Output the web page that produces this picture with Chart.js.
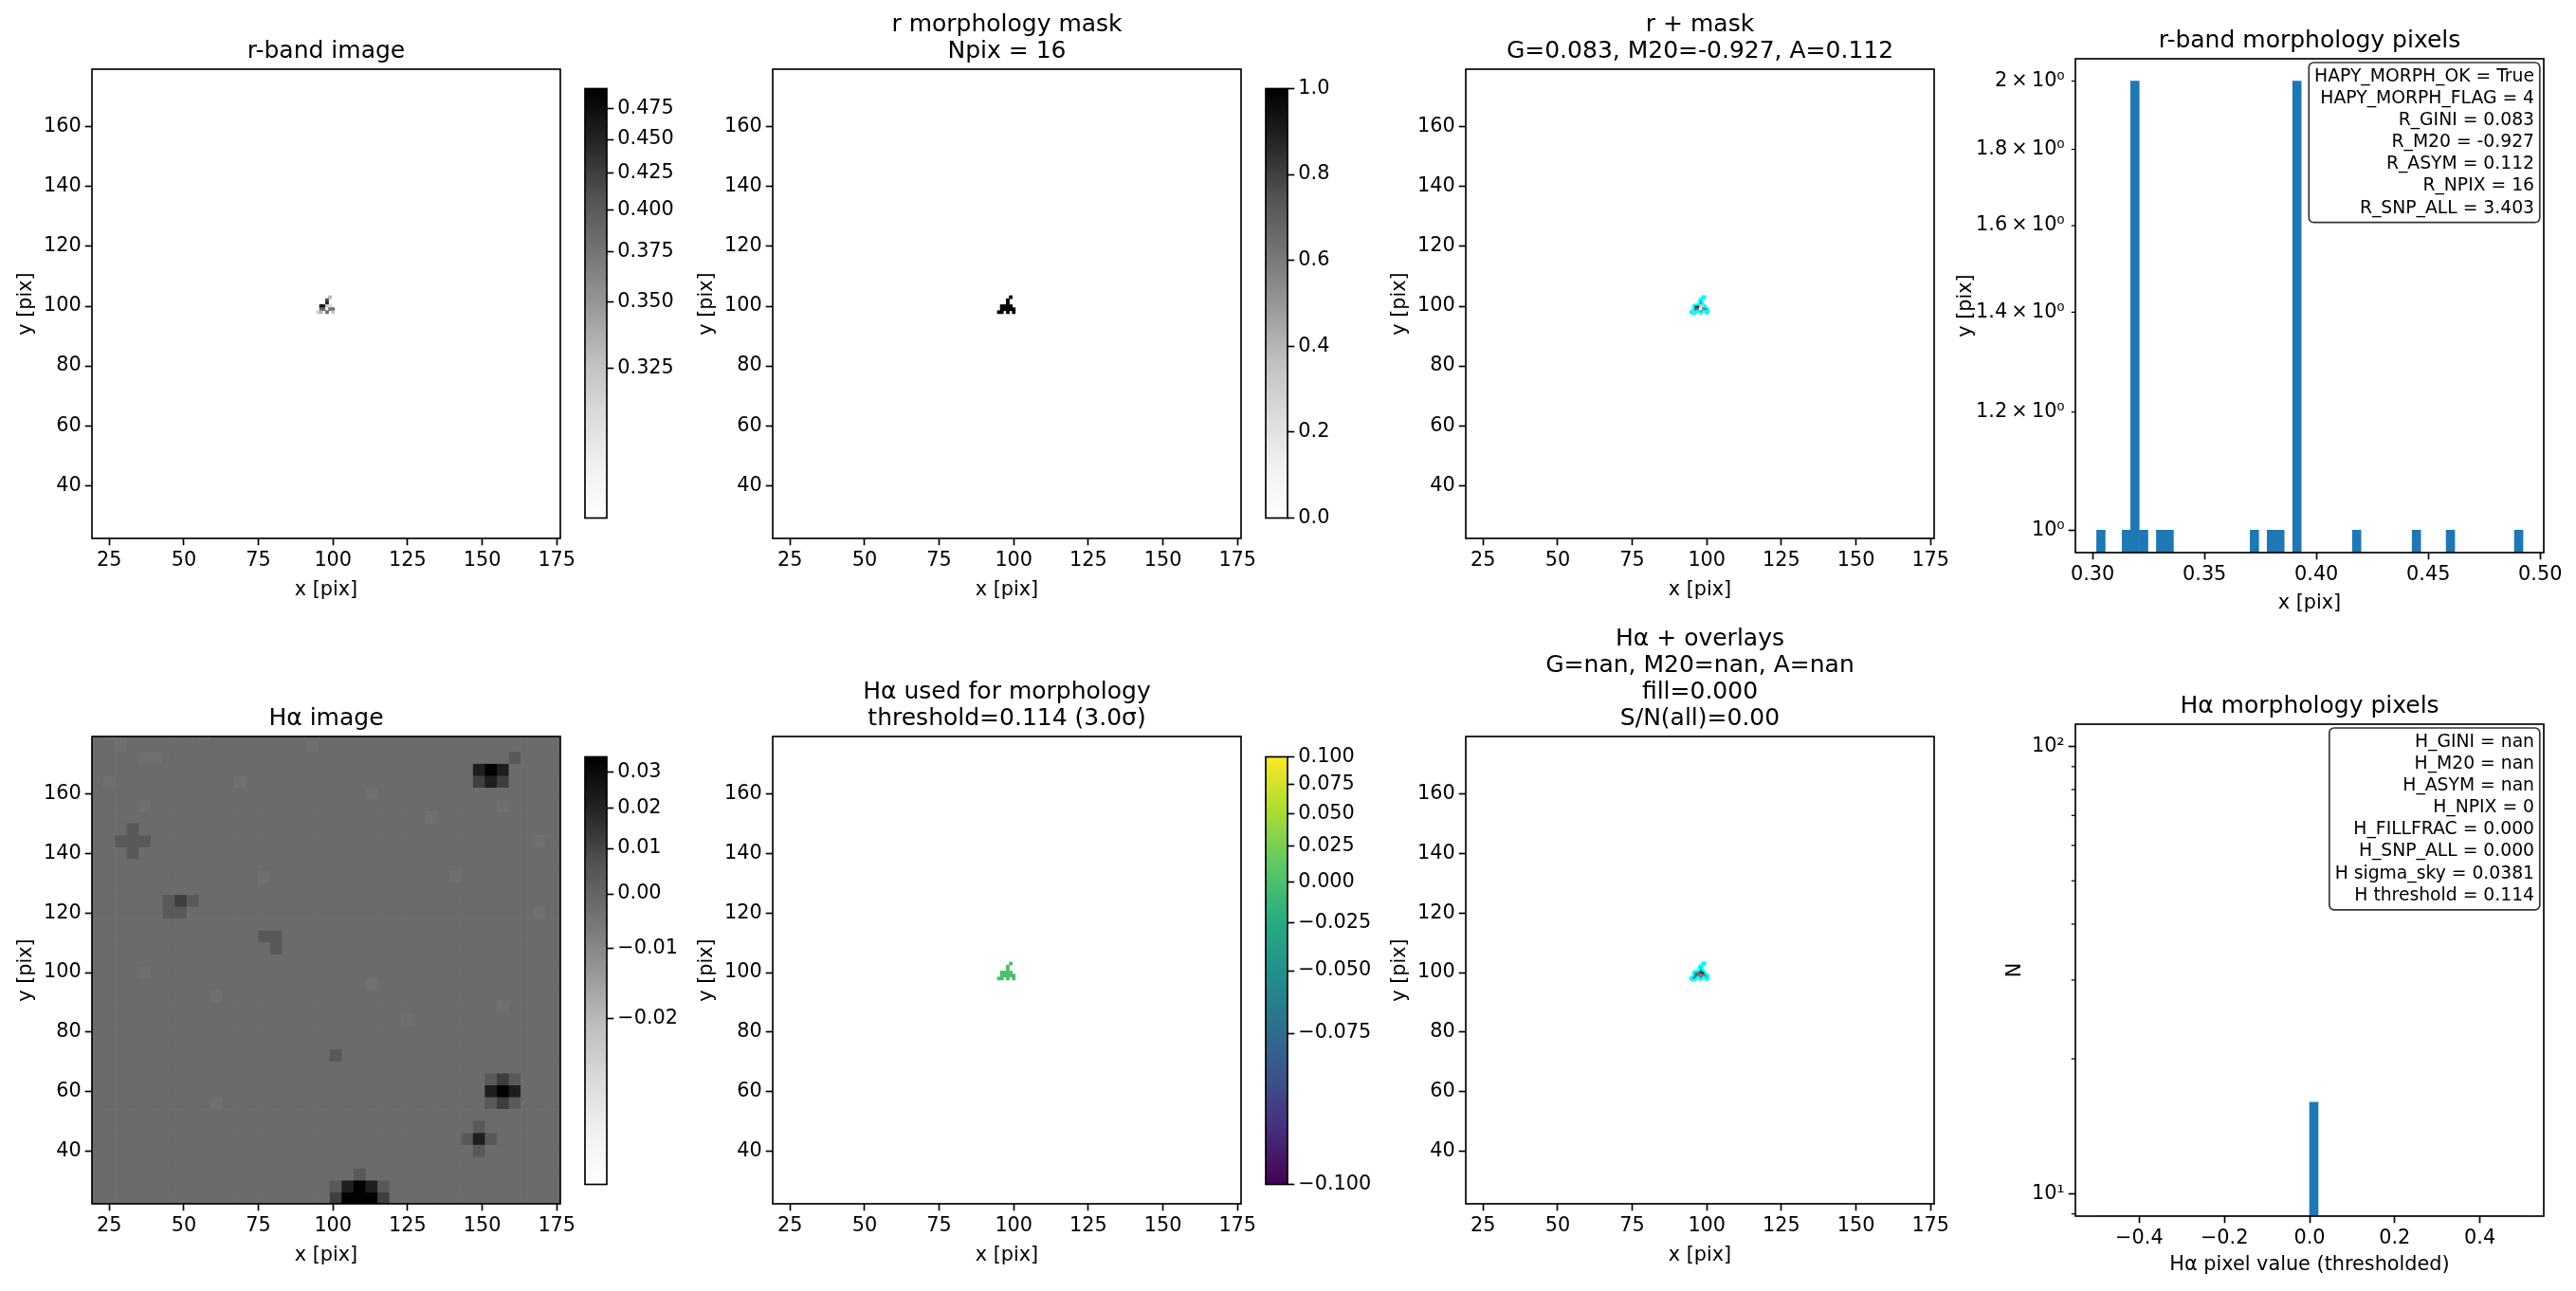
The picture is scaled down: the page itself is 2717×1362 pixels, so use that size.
<!DOCTYPE html>
<html>
<head>
<meta charset="utf-8">
<title>Morphology diagnostics</title>
<script src="https://cdn.jsdelivr.net/npm/chart.js@4"></script>
<style>
    html, body { margin: 0; background: #fff; }
    #fig { position: relative; width: 2717px; height: 1362px; overflow: hidden; }
    canvas { position: absolute; }
</style>
</head>
<body>
<div id="fig"></div>
<script>
// Image axes ticks
const imageXTicks = [25, 50, 75, 100, 125, 150, 175];
const imageYTicks = [40, 60, 80, 100, 120, 140, 160];

// Pixels of the 16 pixel morphology mask (x, y in image pixels)
const maskX = [99, 98, 98, 96, 97, 98, 99, 96, 97, 98, 99, 100, 95, 96, 98, 100];
const maskY = [103, 102, 101, 100, 100, 100, 100, 99, 99, 99, 99, 99, 98, 98, 98, 98];
const maskValues = [1, 1, 1, 1, 1, 1, 1, 1, 1, 1, 1, 1, 1, 1, 1, 1];
const rPixelValues = [0.331, 0.418, 0.445, 0.4904, 0.4599, 0.319, 0.3151, 0.3913, 0.3913, 0.3037, 0.3723, 0.3799, 0.3189, 0.3342, 0.3837, 0.3228];
const haUsedValues = [0, 0, 0, 0, 0, 0, 0, 0, 0, 0, 0, 0, 0, 0, 0, 0];
const haOverlayValues = [0.002, 0.004, 0.006, 0, 0, 0.008, 0.03, 0.003, 0, -0.006, -0.004, -0.01, 0, 0.002, 0, -0.012];

// Outline of the mask, drawn in cyan on the overlay panels
const contourX = [99, 99.5, 99, 98.5, 98.5, 99, 99.5, 100, 100.5, 100.5, 100, 99.5, 99, 98.5, 98, 97.5, 97, 96.5, 96, 95, 94.5, 95, 95.5, 95.5, 96, 97, 97.5, 97.5, 98, 98.5, 99];
const contourY = [103.5, 103, 102.5, 102, 101, 100.5, 100, 99.5, 99, 98, 97.5, 98, 98.5, 98, 97.5, 98, 98.5, 98, 97.5, 97.5, 98, 98.5, 99, 100, 100.5, 100.5, 101, 102, 102.5, 103, 103.5];

// Halpha image: read by eye as 4x4 pixel blocks, top row first. The single
// pixel speckle of the reference cannot be transcribed, only the local level
// and the dark blobs are kept. Digit = index into haBlockLevels.
const haBlockX = [21, 25, 29, 33, 37, 41, 45, 49, 53, 57, 61, 65, 69, 73, 77, 81, 85, 89, 93, 97, 101, 105, 109, 113, 117, 121, 125, 129, 133, 137, 141, 145, 149, 153, 157, 161, 165, 169, 173, 177];
const haBlockY = [180, 176, 172, 168, 164, 160, 156, 152, 148, 144, 140, 136, 132, 128, 124, 120, 116, 112, 108, 104, 100, 96, 92, 88, 84, 80, 76, 72, 68, 64, 60, 56, 52, 48, 44, 40, 36, 32, 28, 24];
const haBlockLevels = [-0.012, -0.009, -0.007, -0.005, -0.0035, -0.002, 0.004, 0.012, 0.022, 0.034];
const haBlockRows = [
    '5445555554555555555555555555555555555555',
    '5545555555555555554555555555555555555555',
    '5555445555555555555555555555555555565555',
    '5555555555555555555555555555555589855555',
    '5455555555554555555555555555555578755555',
    '5555555555555555555555545555555555555555',
    '5555455555555555555555555555555555455555',
    '5555555555555555555555555555455555555555',
    '5556555555555555555555555555555555555555',
    '5566655555555555555555555555555555555455',
    '5556555555555555555555555555555555555555',
    '5555555555555555555555555555555555555555',
    '5555555555555545555555555555554555555555',
    '5555555555555555555555555555555555555555',
    '5555556765555555555555555555555555555555',
    '5555556655555555555555555555555555555455',
    '5555555555555555555555555555555555555555',
    '5555555555555566555555555555555555555555',
    '5555555555555556555555555555555555555555',
    '5555555555555555555555555555555555555555',
    '5555455555555555555555555555555555555555',
    '5555555555555555555555545555555555555555',
    '5555555555455555555555555555555555555555',
    '5555555555555555555555555555555555455555',
    '5555555555555555555555555545555555555555',
    '5555555555555555555555555555555555555555',
    '5555555555555555555555555555555555555555',
    '5555555555555555555565555555555555555555',
    '5555555555555555555555555555555555555555',
    '5555555555555555555555555555555556765555',
    '5555555555555555555555555555555558985555',
    '5555555555455555555555555555555556765555',
    '5555555555555555555555555555555555555555',
    '5555555555555555555555555555555565555555',
    '5555555555555555555555555555555686555555',
    '5555555555555555555555555555555565555555',
    '5555555555555555555555555555555555555555',
    '5555555555555555555555655555555555555555',
    '5555555555555555555568986555555555555555',
    '5555555555555555555579997555555555555555'
];

// r-band histogram: non-empty bins only
const rHistBins = [0.3037, 0.3151, 0.3189, 0.3228, 0.3304, 0.3342, 0.3723, 0.3799, 0.3837, 0.3913, 0.418, 0.4447, 0.4599, 0.4904];
const rHistCounts = [1, 1, 2, 1, 1, 1, 1, 1, 1, 2, 1, 1, 1, 1];
const rHistXTicks = [0.30, 0.35, 0.40, 0.45, 0.50];
const rHistYTicks = [1, 1.2, 1.4, 1.6, 1.8, 2];
const rHistYLabels = ['10⁰', '1.2\u2009×\u200910⁰', '1.4\u2009×\u200910⁰', '1.6\u2009×\u200910⁰', '1.8\u2009×\u200910⁰', '2\u2009×\u200910⁰'];

// Halpha histogram
const haHistBins = [-0.49, -0.47, -0.45, -0.43, -0.41, -0.39, -0.37, -0.35, -0.33, -0.31, -0.29, -0.27, -0.25, -0.23, -0.21, -0.19, -0.17, -0.15, -0.13, -0.11, -0.09, -0.07, -0.05, -0.03, -0.01, 0.01, 0.03, 0.05, 0.07, 0.09, 0.11, 0.13, 0.15, 0.17, 0.19, 0.21, 0.23, 0.25, 0.27, 0.29, 0.31, 0.33, 0.35, 0.37, 0.39, 0.41, 0.43, 0.45, 0.47, 0.49];
const haHistCounts = [0, 0, 0, 0, 0, 0, 0, 0, 0, 0, 0, 0, 0, 0, 0, 0, 0, 0, 0, 0, 0, 0, 0, 0, 0, 16, 0, 0, 0, 0, 0, 0, 0, 0, 0, 0, 0, 0, 0, 0, 0, 0, 0, 0, 0, 0, 0, 0, 0, 0];
const haHistXTicks = [-0.4, -0.2, 0, 0.2, 0.4];
const haHistYTicks = [10, 100];
const haHistYLabels = ['10¹', '10²'];
const haHistYMinor = [9, 20, 30, 40, 50, 60, 70, 80, 90];

// Colorbar ticks
const rBarTicks = [0.325, 0.35, 0.375, 0.40, 0.425, 0.45, 0.475];
const maskBarTicks = [0, 0.2, 0.4, 0.6, 0.8, 1];
const haBarTicks = [-0.02, -0.01, 0, 0.01, 0.02, 0.03];
const usedBarTicks = [-0.1, -0.075, -0.05, -0.025, 0, 0.025, 0.05, 0.075, 0.1];

// Annotation boxes
const rBoxLines = ['HAPY_MORPH_OK = True', 'HAPY_MORPH_FLAG = 4', 'R_GINI = 0.083', 'R_M20 = -0.927', 'R_ASYM = 0.112', 'R_NPIX = 16', 'R_SNP_ALL = 3.403'];
const haBoxLines = ['H_GINI = nan', 'H_M20 = nan', 'H_ASYM = nan', 'H_NPIX = 0', 'H_FILLFRAC = 0.000', 'H_SNP_ALL = 0.000', 'H sigma_sky = 0.0381', 'H threshold = 0.114'];

// Colormaps
const GREYS = ['#ffffff', '#f0f0f0', '#d9d9d9', '#bdbdbd', '#969696', '#737373', '#525252', '#252525', '#000000'];
const VIRIDIS = ['#440154', '#472d7b', '#3b528b', '#2c728e', '#21918c', '#28ae80', '#5ec962', '#addc30', '#fde725'];

const FONT = '"DejaVu Sans"';
const TICK_SIZE = 20.8;
const TITLE_SIZE = 25;
const TITLE_LINE = 1.13;

Chart.defaults.font.family = FONT;
Chart.defaults.color = '#000';

// Square root stretch used by the image colorbars
class SqrtScale extends Chart.LinearScale {
    getPixelForValue(value) {
        const t = (value - this.min) / (this.max - this.min);
        return this.getPixelForDecimal(Math.sqrt(Math.max(0, t)));
    }
}
SqrtScale.id = 'sqrtStretch';
SqrtScale.defaults = Chart.LinearScale.defaults;
Chart.register(SqrtScale);

function hexToRgb(hex) {
    return [1, 3, 5].map(i => parseInt(hex.slice(i, i + 2), 16));
}

function mapColor(stops, t) {
    const pos = Math.min(Math.max(t, 0), 1) * (stops.length - 1);
    const i = Math.min(Math.floor(pos), stops.length - 2);
    const a = hexToRgb(stops[i]);
    const b = hexToRgb(stops[i + 1]);
    const c = a.map((v, k) => Math.round(v + (b[k] - v) * (pos - i)));
    return `rgb(${c[0]},${c[1]},${c[2]})`;
}

function sqrtColor(stops, value, vmin, vmax) {
    return mapColor(stops, Math.sqrt(Math.max(0, (value - vmin) / (vmax - vmin))));
}

// Axes frame, short log ticks and the annotation box
const framePlugin = {
    id: 'axesFrame',
    afterDraw(chart, args, opts) {
        const a = chart.chartArea;
        const ctx = chart.ctx;
        ctx.save();
        ctx.strokeStyle = '#000';
        ctx.lineWidth = 1.67;
        ctx.strokeRect(a.left, a.top, a.right - a.left, a.bottom - a.top);
        (opts.minorTicks || []).forEach(v => {
            const y = chart.scales.y.getPixelForValue(v);
            ctx.lineWidth = 1.25;
            ctx.beginPath();
            ctx.moveTo(a.left, y);
            ctx.lineTo(a.left - 4.2, y);
            ctx.stroke();
        });
        if (opts.boxLines) {
            const lineStep = 23.1;
            ctx.font = `18.75px ${FONT}`;
            const textW = Math.max(...opts.boxLines.map(l => ctx.measureText(l).width));
            const right = a.right - 4.2;
            const top = a.top + 4;
            const w = textW + 11.6;
            const h = opts.boxLines.length * lineStep + 7;
            ctx.beginPath();
            ctx.roundRect(right - w, top, w, h, 5);
            ctx.fillStyle = '#fff';
            ctx.fill();
            ctx.strokeStyle = '#333';
            ctx.lineWidth = 1.67;
            ctx.stroke();
            ctx.fillStyle = '#000';
            ctx.textAlign = 'right';
            ctx.textBaseline = 'middle';
            opts.boxLines.forEach((line, i) => {
                ctx.fillText(line, right - 5.8, top + 3.5 + lineStep * (i + 0.5));
            });
        }
        ctx.restore();
    }
};
Chart.register(framePlugin);

function addCanvas(box, margin) {
    const canvas = document.createElement('canvas');
    canvas.style.left = (box.l - margin.l) + 'px';
    canvas.style.top = (box.t - margin.t) + 'px';
    canvas.width = box.r - box.l + margin.l + margin.r;
    canvas.height = box.b - box.t + margin.t + margin.b;
    document.getElementById('fig').appendChild(canvas);
    return canvas;
}

function axisOptions(cfg) {
    return {
        type: cfg.type || 'linear',
        position: cfg.position,
        min: cfg.min,
        max: cfg.max,
        offset: false,
        title: cfg.label ? { display: true, text: cfg.label, font: { size: TICK_SIZE }, padding: 0 } : { display: false },
        border: { display: false },
        grid: {
            offset: false,
            drawOnChartArea: false,
            drawTicks: true,
            tickLength: 7.3,
            tickWidth: 1.67,
            tickColor: c => (cfg.noMark && cfg.noMark.includes(c.tick.value)) ? 'transparent' : '#000'
        },
        ticks: {
            autoSkip: false,
            maxRotation: 0,
            padding: 4,
            font: { size: TICK_SIZE },
            callback: cfg.format
        },
        afterBuildTicks: s => { s.ticks = cfg.ticks.map(value => ({ value })); },
        afterFit: s => {
            if (cfg.fit !== undefined) {
                if (s.isHorizontal()) s.height = cfg.fit; else s.width = cfg.fit;
            }
        }
    };
}

// One set of axes. datasets are Chart.js datasets on the x / y scales.
function drawAxes(cfg) {
    const margin = { l: cfg.yFit + 10, t: 125, r: 60, b: cfg.xFit + 10 };
    const titleLines = cfg.title.length;
    const titleH = titleLines * TITLE_SIZE * TITLE_LINE + 4;
    new Chart(addCanvas(cfg.box, margin), {
        type: 'bar',
        data: { datasets: cfg.datasets },
        options: {
            responsive: false,
            animation: false,
            devicePixelRatio: 1,
            events: [],
            layout: { padding: { left: margin.l - cfg.yFit, top: margin.t - titleH, right: margin.r, bottom: margin.b - cfg.xFit } },
            plugins: {
                legend: { display: false },
                tooltip: { enabled: false },
                title: {
                    display: true,
                    text: cfg.title,
                    fullSize: false,
                    color: '#000',
                    font: { size: TITLE_SIZE, weight: 'normal', lineHeight: TITLE_LINE },
                    padding: { top: 0, bottom: 4 }
                },
                axesFrame: { boxLines: cfg.boxLines, minorTicks: cfg.minorTicks }
            },
            scales: {
                x: axisOptions(Object.assign({ position: 'bottom', fit: cfg.xFit }, cfg.x)),
                y: axisOptions(Object.assign({ position: 'left', fit: cfg.yFit }, cfg.y))
            }
        }
    });
}

// Image cells as floating bars one pixel tall
function cellDataset(xs, ys, colors, size) {
    return {
        order: 1,
        data: xs.map((x, i) => ({ x, y: [ys[i] - size / 2, ys[i] + size / 2] })),
        backgroundColor: colors,
        borderWidth: 0,
        barPercentage: 1,
        categoryPercentage: 1,
        grouped: false
    };
}

function contourDataset() {
    return {
        type: 'line',
        order: 0,
        data: contourX.map((x, i) => ({ x, y: contourY[i] })),
        borderColor: '#00ffff',
        borderWidth: 2.6,
        pointRadius: 0,
        tension: 0,
        fill: false
    };
}

function histDataset(bins, counts) {
    return {
        data: bins.map((x, i) => ({ x, y: counts[i] })),
        backgroundColor: '#1f77b4',
        borderWidth: 0,
        barPercentage: 1,
        categoryPercentage: 1,
        grouped: false
    };
}

function imagePanel(box, title, datasets) {
    drawAxes({
        box, title, datasets, xFit: 67, yFit: 82,
        x: { min: 19.2, max: 176.2, ticks: imageXTicks, label: 'x [pix]', format: v => String(v) },
        y: { min: 22.3, max: 179.3, ticks: imageYTicks, label: 'y [pix]', format: v => String(v) }
    });
}

function colorbar(box, stops, type, vmin, vmax, ticks, digits) {
    const fit = 96;
    const margin = { l: 4, t: 14, r: fit + 4, b: 14 };
    new Chart(addCanvas(box, margin), {
        type: 'bar',
        data: {
            labels: ['bar'],
            datasets: [{
                data: [[vmin, vmax]],
                borderWidth: 0,
                barPercentage: 1,
                categoryPercentage: 1,
                backgroundColor: ctx => {
                    const a = ctx.chart.chartArea;
                    if (!a) return 'transparent';
                    const g = ctx.chart.ctx.createLinearGradient(0, a.bottom, 0, a.top);
                    stops.forEach((c, i) => g.addColorStop(i / (stops.length - 1), c));
                    return g;
                }
            }]
        },
        options: {
            responsive: false,
            animation: false,
            devicePixelRatio: 1,
            events: [],
            layout: { padding: { left: margin.l, top: margin.t, right: margin.r - fit, bottom: margin.b } },
            plugins: { legend: { display: false }, tooltip: { enabled: false }, axesFrame: {} },
            scales: {
                x: { display: false },
                y: axisOptions({
                    type, position: 'right', min: vmin, max: vmax, ticks, fit,
                    format: v => v.toFixed(digits).replace('-', '\u2212')
                })
            }
        }
    });
}

const rMin = 0.3018, rMax = 0.4924;
const haMin = -0.0296, haMax = 0.0345;
const usedMin = -0.1, usedMax = 0.1;

const rColors = rPixelValues.map(v => sqrtColor(GREYS, v, rMin, rMax));
const maskColors = maskValues.map(v => mapColor(GREYS, v));
const usedColors = haUsedValues.map(v => sqrtColor(VIRIDIS, v, usedMin, usedMax));
const overlayColors = haOverlayValues.map(v => sqrtColor(GREYS, v, haMin, haMax));

// Expand the block rows into cell lists
const blockXs = [], blockYs = [], blockColors = [];
haBlockRows.forEach((row, r) => {
    haBlockX.forEach((x, c) => {
        blockXs.push(x);
        blockYs.push(haBlockY[r]);
        blockColors.push(sqrtColor(GREYS, haBlockLevels[Number(row[c])], haMin, haMax));
    });
});

// Panel boxes
const COL1 = 97.4, COL2 = 815, COL3 = 1546;
const IMG_W = 494.6;
const TOP = { t: 72.7, b: 567.8 };
const BOTTOM = { t: 777, b: 1270.7 };

function imageBox(col, row) {
    return { l: col, r: col + IMG_W, t: row.t, b: row.b };
}
function barBox(col, row) {
    return { l: col + 519.6, r: col + 542.6, t: row.t + 18.5, b: row.b - 18.5 };
}

// Top row
imagePanel(imageBox(COL1, TOP), ['r-band image'], [cellDataset(maskX, maskY, rColors, 1)]);
colorbar(barBox(COL1, TOP), GREYS, 'sqrtStretch', rMin, rMax, rBarTicks, 3);

imagePanel(imageBox(COL2, TOP), ['r morphology mask', 'Npix = 16'], [cellDataset(maskX, maskY, maskColors, 1)]);
colorbar(barBox(COL2, TOP), GREYS, 'linear', 0, 1, maskBarTicks, 1);

imagePanel(imageBox(COL3, TOP), ['r + mask', 'G=0.083, M20=-0.927, A=0.112'], [
    cellDataset(maskX, maskY, rColors, 1),
    contourDataset()
]);

drawAxes({
    box: { l: 2188.6, r: 2683, t: 62, b: 583 },
    title: ['r-band morphology pixels'],
    datasets: [histDataset(rHistBins, rHistCounts)],
    boxLines: rBoxLines,
    minorTicks: [1.2, 1.4, 1.6, 1.8, 2],
    xFit: 66,
    yFit: 128,
    x: { min: 0.2923, max: 0.5016, ticks: rHistXTicks, label: 'x [pix]', format: v => v.toFixed(2) },
    y: {
        type: 'logarithmic', min: 0.966, max: 2.07, ticks: rHistYTicks, label: 'y [pix]',
        noMark: [1.2, 1.4, 1.6, 1.8, 2],
        format: v => rHistYLabels[rHistYTicks.indexOf(v)]
    }
});

// Bottom row
imagePanel(imageBox(COL1, BOTTOM), ['H\u03b1 image'], [cellDataset(blockXs, blockYs, blockColors, 4)]);
colorbar(barBox(COL1, BOTTOM), GREYS, 'sqrtStretch', haMin, haMax, haBarTicks, 2);

imagePanel(imageBox(COL2, BOTTOM), ['H\u03b1 used for morphology', 'threshold=0.114 (3.0\u03c3)'], [cellDataset(maskX, maskY, usedColors, 1)]);
colorbar(barBox(COL2, BOTTOM), VIRIDIS, 'sqrtStretch', usedMin, usedMax, usedBarTicks, 3);

imagePanel(imageBox(COL3, BOTTOM), ['H\u03b1 + overlays', 'G=nan, M20=nan, A=nan', 'fill=0.000', 'S/N(all)=0.00'], [
    cellDataset(maskX, maskY, overlayColors, 1),
    contourDataset()
]);

drawAxes({
    box: { l: 2188.6, r: 2683, t: 764, b: 1283.8 },
    title: ['H\u03b1 morphology pixels'],
    datasets: [histDataset(haHistBins, haHistCounts)],
    boxLines: haBoxLines,
    minorTicks: haHistYMinor,
    xFit: 64,
    yFit: 76,
    x: { min: -0.55, max: 0.55, ticks: haHistXTicks, label: 'H\u03b1 pixel value (thresholded)', format: v => v.toFixed(1).replace('-', '\u2212') },
    y: {
        type: 'logarithmic', min: 8.9, max: 112, ticks: haHistYTicks, label: 'N',
        format: v => haHistYLabels[haHistYTicks.indexOf(v)]
    }
});
</script>
</body>
</html>
